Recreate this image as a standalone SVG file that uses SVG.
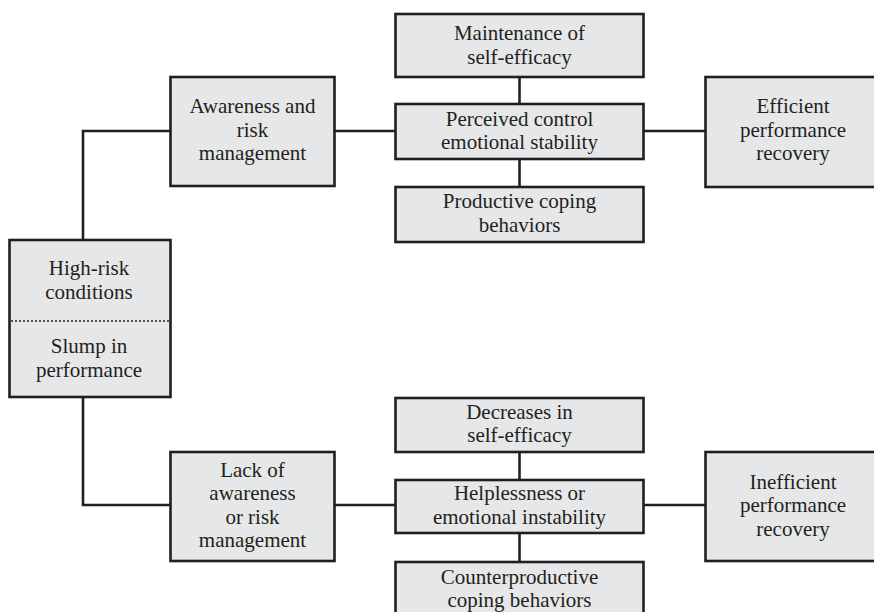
<svg xmlns="http://www.w3.org/2000/svg" width="874" height="612" viewBox="0 0 874 612">
<style>
.box{fill:#e6e7e8;stroke:#231f20;stroke-width:2.6}
.ln{fill:none;stroke:#231f20;stroke-width:2.6}
.dot{fill:none;stroke:#231f20;stroke-width:1.3;stroke-dasharray:2 2}
text{font-family:"Liberation Serif","Times New Roman",serif;font-size:21px;fill:#231f20;text-anchor:middle}
</style>
<rect width="874" height="612" fill="#ffffff"/>
<g id="connectors">
<path class="ln" d="M83 240 V131 H170.5"/>
<path class="ln" d="M335 131 H395.5"/>
<path class="ln" d="M519.5 77 V104"/>
<path class="ln" d="M519.5 159 V187"/>
<path class="ln" d="M644 131 H705.5"/>
<path class="ln" d="M83 397 V505 H170.5"/>
<path class="ln" d="M335 505 H395.5"/>
<path class="ln" d="M519.5 452 V480"/>
<path class="ln" d="M519.5 533 V562"/>
<path class="ln" d="M644 505 H705.5"/>
</g>
<g id="highrisk">
<rect class="box" x="9.5" y="240" width="161" height="157"/>
<line class="dot" x1="11" y1="321" x2="169" y2="321"/>
<text x="89" y="275">High-risk</text>
<text x="89" y="298.5">conditions</text>
<text x="89" y="353">Slump in</text>
<text x="89" y="376.5">performance</text>
</g>
<g id="awareness">
<rect class="box" x="170.5" y="77" width="164" height="109"/>
<text x="252.5" y="113">Awareness and</text>
<text x="252.5" y="136.5">risk</text>
<text x="252.5" y="160">management</text>
</g>
<g id="maintenance">
<rect class="box" x="395.5" y="14" width="248" height="63"/>
<text x="519.5" y="40">Maintenance of</text>
<text x="519.5" y="63.5">self-efficacy</text>
</g>
<g id="perceived">
<rect class="box" x="395.5" y="104" width="248" height="55"/>
<text x="519.5" y="125.5">Perceived control</text>
<text x="519.5" y="149">emotional stability</text>
</g>
<g id="productive">
<rect class="box" x="395.5" y="187" width="248" height="55"/>
<text x="519.5" y="208">Productive coping</text>
<text x="519.5" y="231.5">behaviors</text>
</g>
<g id="efficient">
<rect class="box" x="705.5" y="77" width="200" height="110"/>
<text x="793" y="113">Efficient</text>
<text x="793" y="136.5">performance</text>
<text x="793" y="160">recovery</text>
</g>
<g id="lack">
<rect class="box" x="170.5" y="452" width="164" height="109"/>
<text x="252.5" y="476.5">Lack of</text>
<text x="252.5" y="500">awareness</text>
<text x="252.5" y="523.5">or risk</text>
<text x="252.5" y="547">management</text>
</g>
<g id="decreases">
<rect class="box" x="395.5" y="398" width="248" height="54"/>
<text x="519.5" y="418.5">Decreases in</text>
<text x="519.5" y="442">self-efficacy</text>
</g>
<g id="helplessness">
<rect class="box" x="395.5" y="480" width="248" height="53"/>
<text x="519.5" y="500">Helplessness or</text>
<text x="519.5" y="523.5">emotional instability</text>
</g>
<g id="counterproductive">
<rect class="box" x="395.5" y="562" width="248" height="60"/>
<text x="519.5" y="583.5">Counterproductive</text>
<text x="519.5" y="607">coping behaviors</text>
</g>
<g id="inefficient">
<rect class="box" x="705.5" y="452" width="200" height="109"/>
<text x="793" y="488.5">Inefficient</text>
<text x="793" y="512">performance</text>
<text x="793" y="535.5">recovery</text>
</g>
</svg>
